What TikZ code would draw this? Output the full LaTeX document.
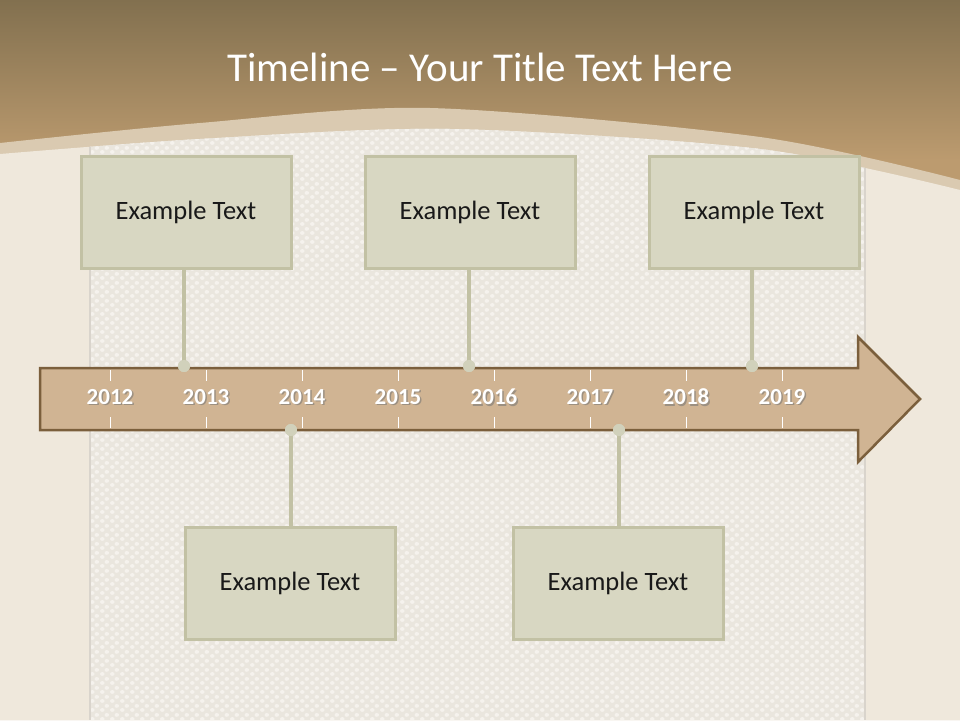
\documentclass[tikz,border=0pt]{standalone}
\usepackage{fontspec}
\setmainfont{Carlito}
\usetikzlibrary{calc,patterns}
\definecolor{topdark}{HTML}{82704F}
\definecolor{toplight}{HTML}{BC9B6F}
\definecolor{bandcol}{HTML}{DACAB1}
\definecolor{woodcol}{HTML}{EFE8DC}
\definecolor{panelcol}{HTML}{EAE6DE}
\definecolor{weavecol}{HTML}{F5F2ED}
\definecolor{paneledge}{HTML}{D9D4CC}
\definecolor{arrowfill}{HTML}{D0B493}
\definecolor{arrowedge}{HTML}{7B5F3C}
\definecolor{boxfill}{HTML}{D8D7C2}
\definecolor{boxedge}{HTML}{C2C1A4}
\pgfdeclarepatternformonly{weave}{\pgfpoint{0pt}{0pt}}{\pgfpoint{10pt}{9pt}}{\pgfpoint{10pt}{9pt}}{
  \pgfpathellipse{\pgfpoint{2.5pt}{2.25pt}}{\pgfpoint{2.5pt}{0pt}}{\pgfpoint{0pt}{2.1pt}}
  \pgfpathellipse{\pgfpoint{7.5pt}{6.75pt}}{\pgfpoint{2.5pt}{0pt}}{\pgfpoint{0pt}{2.1pt}}
  \pgfusepath{fill}
}
\tikzset{
  textbox/.style={draw=boxedge, fill=boxfill, line width=3pt, minimum width=210pt, minimum height=112pt, inner sep=0pt, font=\fontsize{26.5}{30}\selectfont, text=black!90},
  conn/.style={draw=boxedge, line width=4pt},
  dotmark/.style={circle, fill=boxedge!75!white, draw=none, minimum size=12pt, inner sep=0pt},
  yearlabel/.style={font=\bfseries\fontsize{23}{26}\selectfont, text=white, inner sep=0pt},
  yearshadow/.style={font=\bfseries\fontsize{23}{26}\selectfont, text=black!55, inner sep=0pt, opacity=0.55},
  tickmark/.style={draw=white, line width=1pt}
}
\begin{document}
\begin{tikzpicture}[x=1pt,y=-1pt]
\useasboundingbox (0,0) rectangle (960,720);
% top gradient
\shade[top color=topdark, bottom color=toplight] (0,0) rectangle (960,160);
\fill[toplight] (0,159) rectangle (960,200);
% band and wood background below arc
\fill[bandcol] plot[smooth] coordinates {(0,143) (200,123) (430,108) (760,137) (960,180)} -- (960,720) -- (0,720) -- cycle;
\fill[woodcol] plot[smooth] coordinates {(0,154) (200,139) (450,129) (760,149) (960,190)} -- (960,720) -- (0,720) -- cycle;
% central woven panel
\begin{scope}
\clip plot[smooth] coordinates {(0,154) (200,139) (450,129) (760,149) (960,190)} -- (960,720) -- (0,720) -- cycle;
\fill[panelcol] (90,100) rectangle (865,720);
\fill[pattern=weave, pattern color=weavecol] (91,100) rectangle (864,720);
\draw[paneledge, line width=1.5pt] (90,100) -- (90,720) (865,100) -- (865,720);
\end{scope}
% title
\node[text=white, font=\fontsize{41}{46}\selectfont] (title) at (480,67) {Timeline – Your Title Text Here};
% arrow
\filldraw[fill=arrowfill, draw=arrowedge, line width=2.5pt, line join=miter]
  (40,368) -- (858,368) -- (858,337) -- (920,399) -- (858,462) -- (858,430) -- (40,430) -- cycle;
% years
\foreach \yr [count=\i from 0] in {2012,2013,2014,2015,2016,2017,2018,2019} {
  \pgfmathsetmacro{\xx}{110+96*\i}
  \draw[tickmark] (\xx,370) -- (\xx,381) (\xx,417) -- (\xx,428);
  \node[yearshadow] (ys\i) at (\xx+1.5,398.5) {\yr};
  \node[yearlabel] (y\i) at (\xx,397) {\yr};
}
% boxes
\node[textbox] (b1) at (186,212) {\raisebox{-2pt}{Example Text}};
\node[textbox] (b2) at (470,212) {\raisebox{-2pt}{Example Text}};
\node[textbox] (b3) at (754,212) {\raisebox{-2pt}{Example Text}};
\node[textbox] (b4) at (290,583) {\raisebox{-2pt}{Example Text}};
\node[textbox] (b5) at (618,583) {\raisebox{-2pt}{Example Text}};
% dots
\node[dotmark] (d1) at (184,366) {};
\node[dotmark] (d2) at (469,366) {};
\node[dotmark] (d3) at (752,366) {};
\node[dotmark] (d4) at (291,430) {};
\node[dotmark] (d5) at (619,430) {};
% connectors
\draw[conn] (d1.center) -- (d1.center |- b1.south);
\draw[conn] (d2.center) -- (d2.center |- b2.south);
\draw[conn] (d3.center) -- (d3.center |- b3.south);
\draw[conn] (d4.center) -- (d4.center |- b4.north);
\draw[conn] (d5.center) -- (d5.center |- b5.north);
\node[dotmark] at (d1) {};
\node[dotmark] at (d2) {};
\node[dotmark] at (d3) {};
\node[dotmark] at (d4) {};
\node[dotmark] at (d5) {};
\end{tikzpicture}
\end{document}
